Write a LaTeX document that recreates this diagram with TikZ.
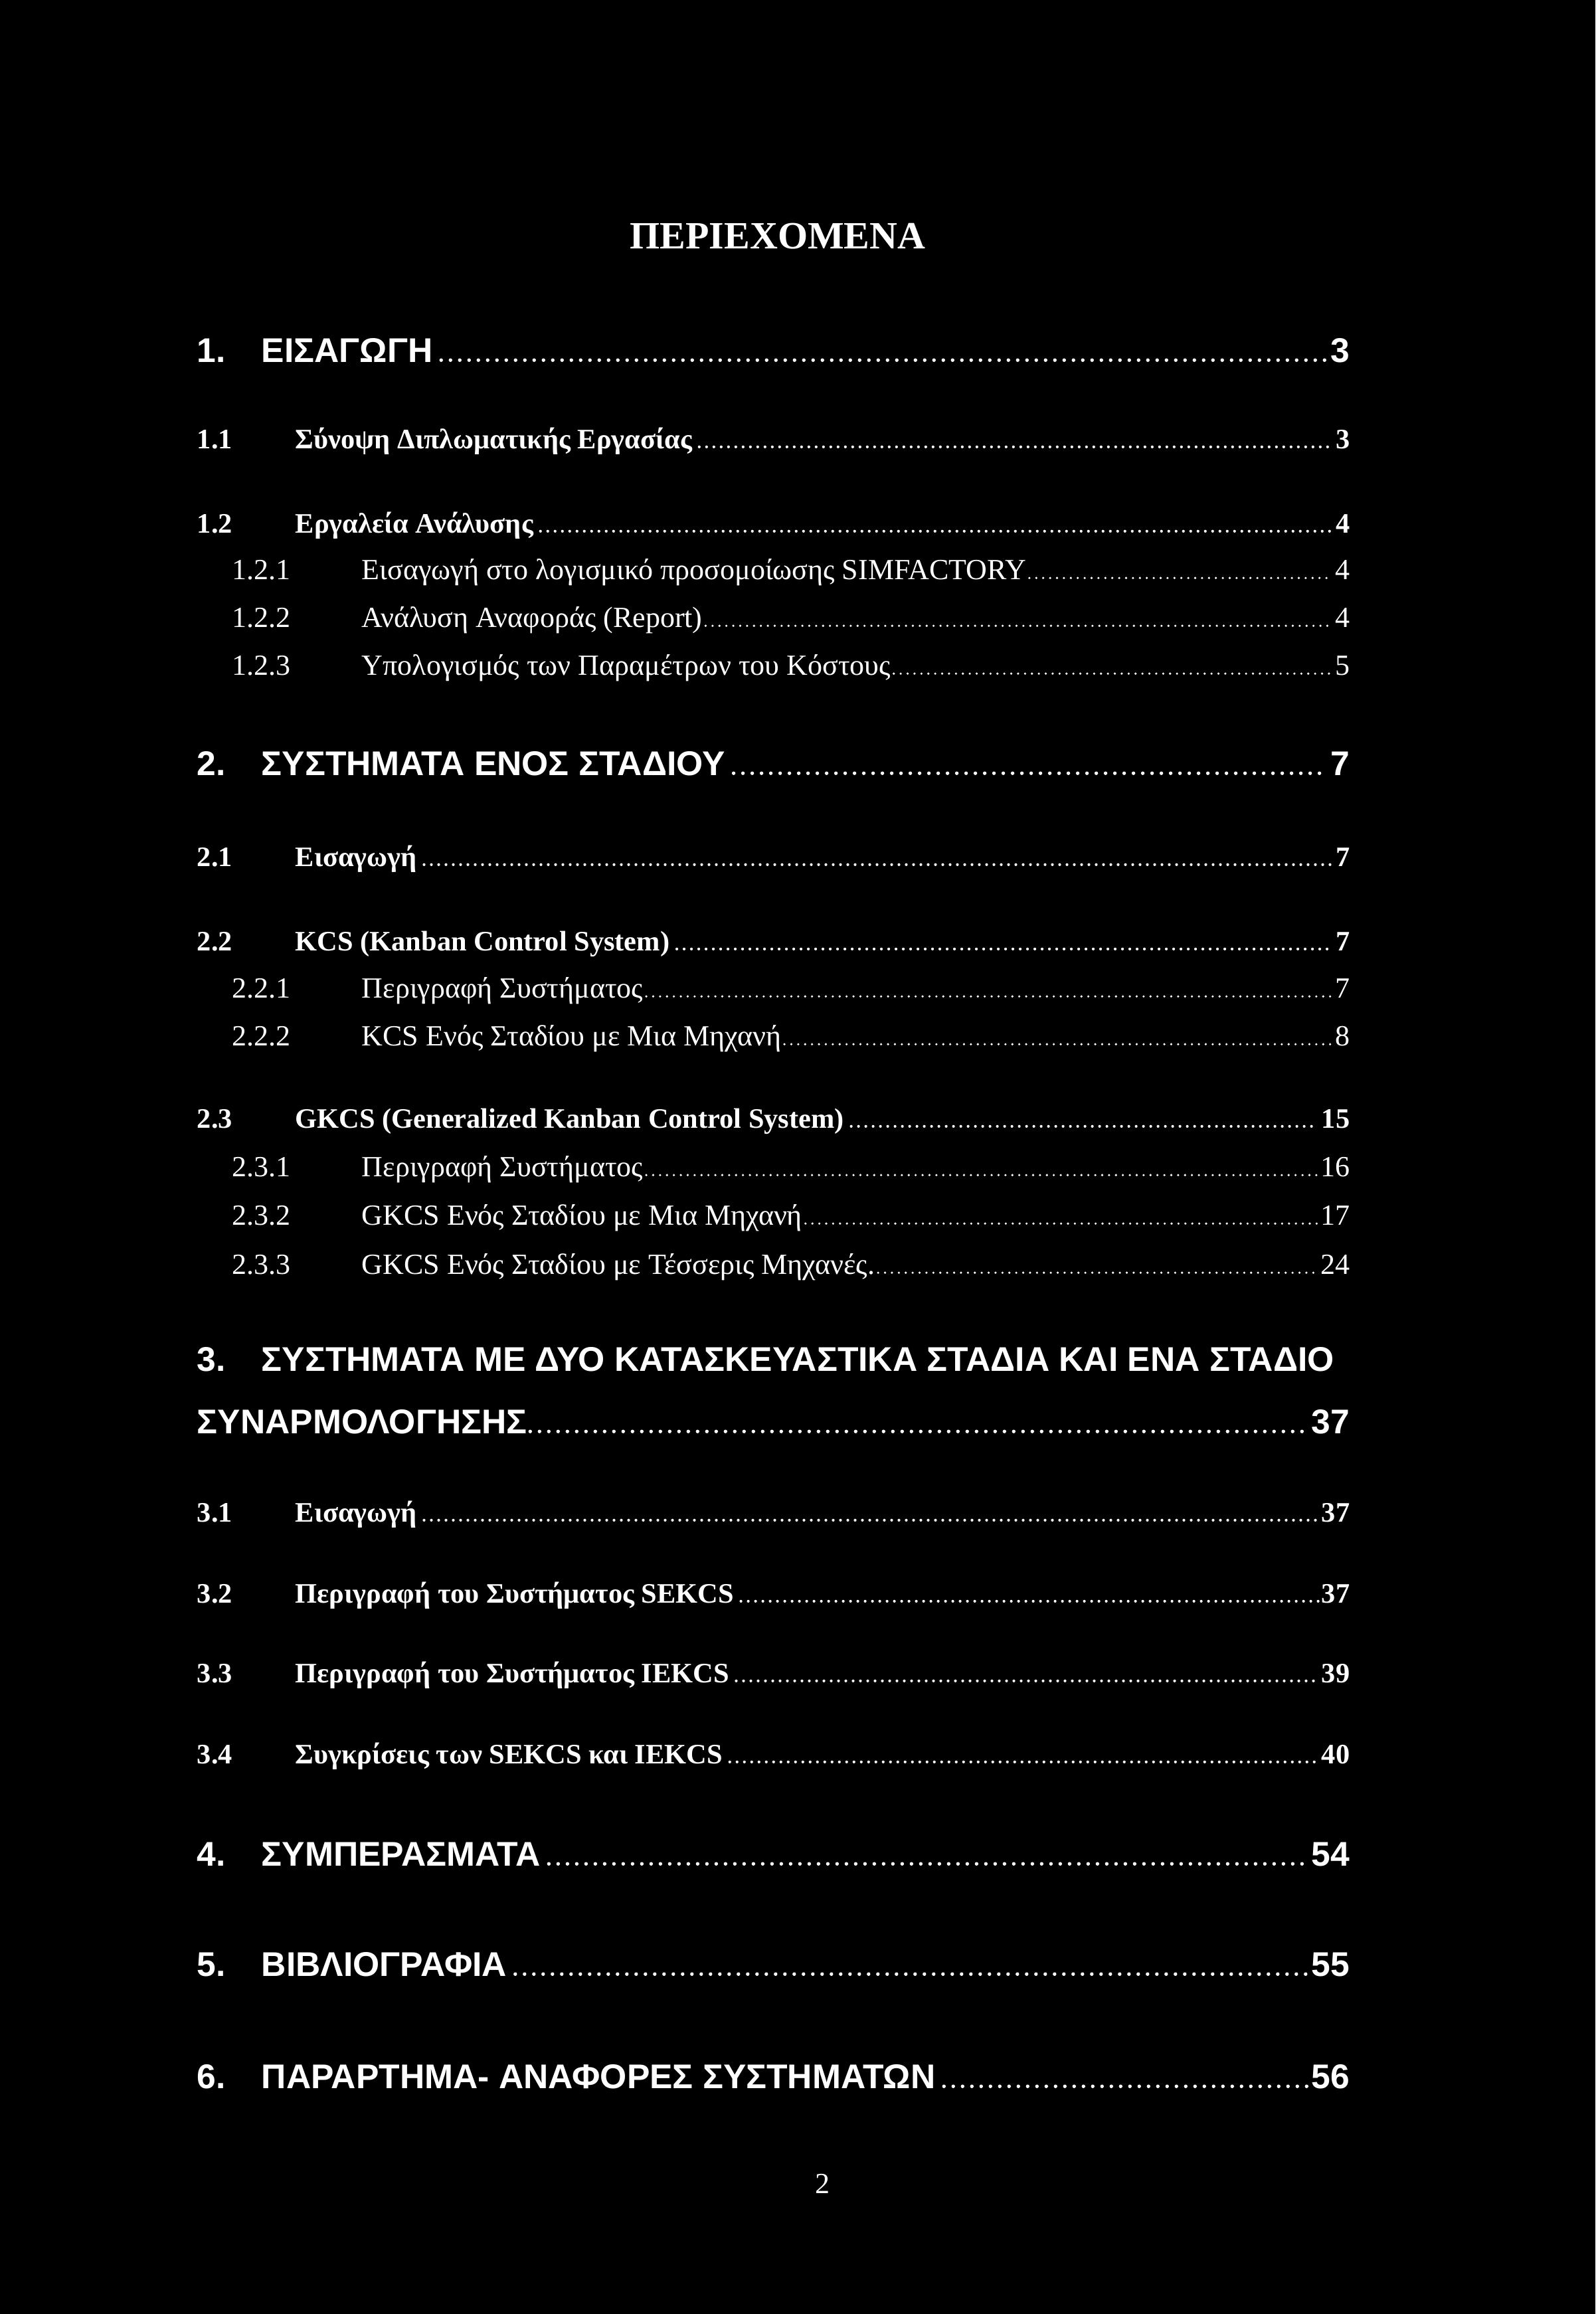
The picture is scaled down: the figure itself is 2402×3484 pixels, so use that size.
\documentclass[tikz,border=0pt]{standalone}
\usepackage{fontspec}
\setmainfont{Liberation Serif}
\setsansfont{Liberation Sans}

\begin{document}
\begin{tikzpicture}[x=0.25pt,y=-0.25pt,
	every node/.style={text=white,inner sep=0pt},
	tocTitle/.style={font=\bfseries\fontsize{14.5}{17}\selectfont},
	tocChapter/.style={font=\sffamily\bfseries\fontsize{12.9}{15}\selectfont},
	tocSection/.style={font=\bfseries\fontsize{10.6}{13}\selectfont},
	tocSub/.style={font=\fontsize{11}{13}\selectfont},
	leader/.style={white,line width=1.35pt,line cap=round,dash pattern=on 0pt off 3.5pt},
	midleader/.style={leader,line width=1.05pt,dash pattern=on 0pt off 2.75pt},
	thinleader/.style={leader,line width=0.9pt,dash pattern=on 0pt off 2.6pt}]
	\useasboundingbox (0,0) rectangle (2402,3484);
	\fill[black] (0,0) rectangle (2402,3484);
	
	\node[tocTitle,anchor=base] (title) at (1171,374) {ΠΕΡΙΕΧΟΜΕΝΑ};
	
	% chapters
	\foreach \y/\n/\t/\p [count=\i] in {545/1./ΕΙΣΑΓΩΓΗ/3,
		1167/2./ΣΥΣΤΗΜΑΤΑ ΕΝΟΣ ΣΤΑΔΙΟΥ/7,
		2809/4./ΣΥΜΠΕΡΑΣΜΑΤΑ/54,
		2975/5./ΒΙΒΛΙΟΓΡΑΦΙΑ/55,
		3144/6./ΠΑΡΑΡΤΗΜΑ- ΑΝΑΦΟΡΕΣ ΣΥΣΤΗΜΑΤΩΝ/56}{
		\node[tocChapter,anchor=base west] (cn\i) at (296,\y) {\n};
		\node[tocChapter,anchor=base west] (ct\i) at (393,\y) {\t};
		\node[tocChapter,anchor=base east] (cp\i) at (2033,\y) {\p};
		\draw[leader] ([xshift=3pt,yshift=0.7pt]ct\i.base east) -- ([xshift=-1.5pt,yshift=0.7pt]cp\i.base west);
	}
	
	% chapter 3 over two lines
	\node[tocChapter,anchor=base west] (cn3) at (296,2064) {3.};
	\node[tocChapter,anchor=base west] (ct3a) at (393,2064) {ΣΥΣΤΗΜΑΤΑ ΜΕ ΔΥΟ ΚΑΤΑΣΚΕΥΑΣΤΙΚΑ ΣΤΑΔΙΑ ΚΑΙ ΕΝΑ ΣΤΑΔΙΟ};
	\node[tocChapter,anchor=base west] (ct3b) at (296,2158) {ΣΥΝΑΡΜΟΛΟΓΗΣΗΣ};
	\node[tocChapter,anchor=base east] (cp3) at (2033,2158) {37};
	\draw[leader] ([xshift=1pt,yshift=0.7pt]ct3b.base east) -- ([xshift=-1.5pt,yshift=0.7pt]cp3.base west);
	
	% sections
	\foreach \y/\n/\t/\p [count=\i] in {675/1.1/Σύνοψη Διπλωματικής Εργασίας/3,
		802/1.2/Εργαλεία Ανάλυσης/4,
		1304/2.1/Εισαγωγή/7,
		1431/2.2/KCS (Kanban Control System)/7,
		1698/2.3/GKCS (Generalized Kanban Control System)/15,
		2291/3.1/Εισαγωγή/37,
		2413/3.2/Περιγραφή του Συστήματος SEKCS/37,
		2533/3.3/Περιγραφή του Συστήματος IEKCS/39,
		2655/3.4/Συγκρίσεις των SEKCS και IEKCS/40}{
		\node[tocSection,anchor=base west] (sn\i) at (296,\y) {\n};
		\node[tocSection,anchor=base west] (st\i) at (444,\y) {\t};
		\node[tocSection,anchor=base east] (sp\i) at (2033,\y) {\p};
		\draw[midleader] ([xshift=2.5pt,yshift=0.55pt]st\i.base east) -- ([xshift=-1pt,yshift=0.55pt]sp\i.base west);
	}
	
	% subsections
	\foreach \y/\n/\t/\p [count=\i] in {872/1.2.1/Εισαγωγή στο λογισμικό προσομοίωσης SIMFACTORY/4,
		944/1.2.2/Ανάλυση Αναφοράς (Report)/4,
		1016/1.2.3/Υπολογισμός των Παραμέτρων του Κόστους/5,
		1502/2.2.1/Περιγραφή Συστήματος/7,
		1574/2.2.2/KCS Ενός Σταδίου με Μια Μηχανή/8,
		1771/2.3.1/Περιγραφή Συστήματος/16,
		1844/2.3.2/GKCS Ενός Σταδίου με Μια Μηχανή/17,
		1918/2.3.3/GKCS Ενός Σταδίου με Τέσσερις Μηχανές.\ /24}{
		\node[tocSub,anchor=base west] (bn\i) at (349,\y) {\n};
		\node[tocSub,anchor=base west] (bt\i) at (544,\y) {\t};
		\node[tocSub,anchor=base east] (bp\i) at (2033,\y) {\p};
		\draw[thinleader] ([xshift=1pt,yshift=0.45pt]bt\i.base east) -- ([xshift=-1pt,yshift=0.45pt]bp\i.base west);
	}
	
	\node[tocSub,anchor=base] (pagenum) at (1238,3302) {2};
\end{tikzpicture}
\end{document}
